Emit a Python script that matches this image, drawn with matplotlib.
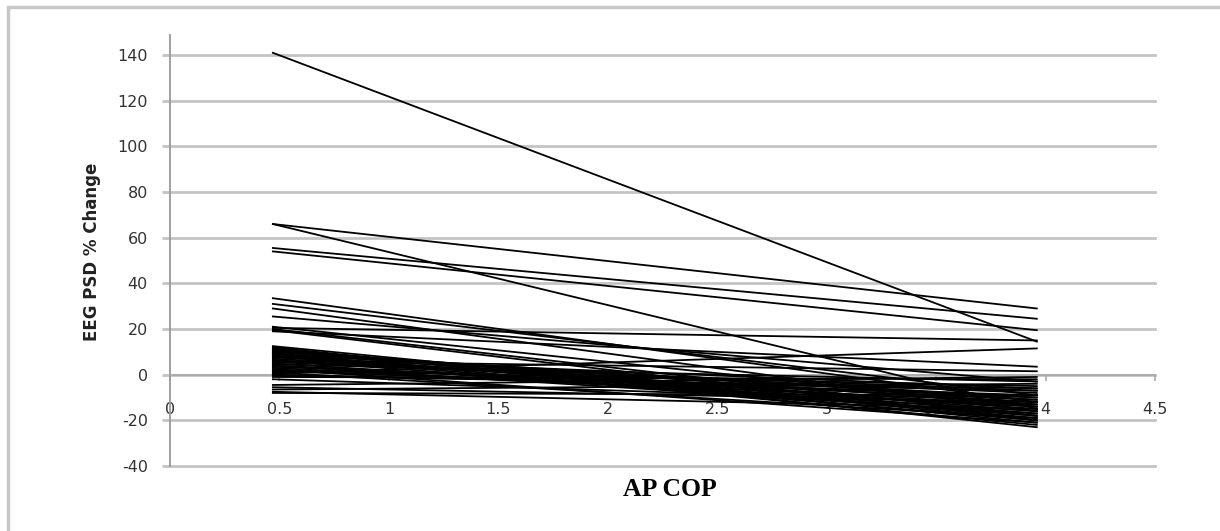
import matplotlib
matplotlib.use("Agg")
import matplotlib.pyplot as plt
from matplotlib.patches import Rectangle

# x positions of the two measurement points
x_pos = [0.47, 3.96]

# EEG PSD % change at the first point and at the second point, one entry per subject
start_vals = [141, 66, 66, 55.5, 54, 33.5, 31, 29, 25.5, 21, 20.5, 20, 19.5, 19,
              12, 11.5, 11, 10.5, 10, 9.5, 9, 8.5, 8, 7.5, 7, 6.5, 6, 5.5, 5, 4.5,
              4, 3, 2.5, 2, 1.5, 1, 0.5, 0, -1, -2, -4.5, -5.5, -6.5, -7.5, -8,
              12.5, 11, 10, 9, 8, 6, 4, 3.5, 2, -0.5]
end_vals = [14.5, 29, -15, 24.5, 19.5, -12, -9, -16, -3, -14, 15, -18, -20, 3.5,
            -23, -21, -19, -13, -17, -22, -10, -15, -20, -6, -12, -18, 1.5, -8, -16, -3,
            -11, -14, -21, -5, -9, -19, 11.5, -7, -2, -13, -1, -12, -4, -15, -9,
            -20, -16, -11, -18, -14, -7, -17, -10, -12, -6]

y_ticks = [-40, -20, 0, 20, 40, 60, 80, 100, 120, 140]
x_ticks = [0, 0.5, 1, 1.5, 2, 2.5, 3, 3.5, 4, 4.5]
x_tick_labels = ['0', '0.5', '1', '1.5', '2', '2.5', '3', '3.5', '4', '4.5']

W, H = 1220, 531
fig = plt.figure(figsize=(W / 100, H / 100), dpi=100)
ax = fig.add_axes([170 / W, 1 - 466 / H, (1155 - 170) / W, (466 - 35) / H])

grid_col = '#c4c4c4'
for yt in y_ticks:
    ax.axhline(yt, color=grid_col, lw=2.0, zorder=1, clip_on=False)

for s, e in zip(start_vals, end_vals):
    ax.plot(x_pos, [s, e], color='black', lw=1.3, zorder=3)

ax.set_xlim(0, 4.5)
ax.set_ylim(-40, 148.8)

for side in ['top', 'right']:
    ax.spines[side].set_visible(False)
ax.spines['left'].set_color('#999999')
ax.spines['left'].set_linewidth(1.3)
ax.spines['bottom'].set_position(('data', 0))
ax.spines['bottom'].set_color('#aaaaaa')
ax.spines['bottom'].set_linewidth(1.3)

ax.set_yticks(y_ticks)
ax.set_yticklabels([str(v) for v in y_ticks])
ax.tick_params(axis='y', direction='out', length=6, width=2.0, color=grid_col,
               pad=10, labelsize=11.5, labelcolor='#333333')
ax.set_xticks(x_ticks)
ax.set_xticklabels(x_tick_labels)
ax.tick_params(axis='x', direction='out', length=4, width=1.2, color='#aaaaaa',
               pad=16, labelsize=11.5, labelcolor='#333333')

fig.text(92 / W, 1 - 252 / H, 'EEG PSD % Change', rotation=90, fontsize=12,
         fontweight='bold', color='#222222', ha='center', va='center')
fig.text(670 / W, 1 - 490 / H, 'AP COP', fontsize=18.5, fontweight='bold',
         family='Liberation Serif', color='black', ha='center', va='center')

fig.patches.append(Rectangle((8, -10), W + 20, H - 7 + 10, transform=None,
                             fill=False, edgecolor='#c8c8c8', lw=2.5, zorder=0))

fig.savefig('out.png', dpi=100)
